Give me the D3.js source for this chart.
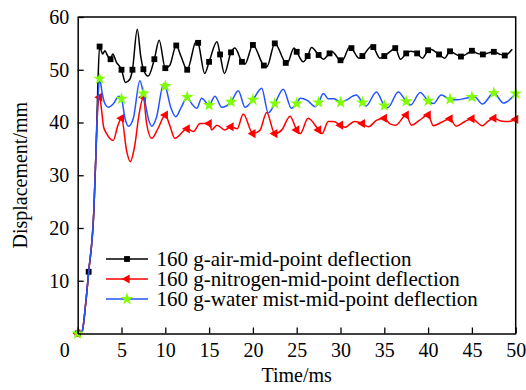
<!DOCTYPE html>
<html>
<head>
<meta charset="utf-8">
<script src="https://cdn.jsdelivr.net/npm/d3@7"></script>
<style>
body { margin: 0; background: #fff; }
svg { display: block; font-family: "Liberation Serif", "Times New Roman", serif; }
</style>
</head>
<body>
<svg id="chart" width="526" height="390"></svg>
<script>
// values, time in ms, displacement in mm
var airLine = [[0.5,0.4],[0.9,5.5],[1.85,23.5],[2.1,35],[2.3,47],
  [2.85,53.0],[3.1,53.6],[3.4,52.7],[4.0,53.0],[4.4,51.5],[5.45,47.6],[5.95,48.2],
  [6.8,57.7],[7.2,52.5],[8.05,48.8],[9.3,55.6],[10.5,50.8],[11.8,52.5],[13.55,55.5],
  [14.5,49.3],[15.9,55.3],[16.75,49.3],[17.95,54.1],[19.1,51.1],[21.6,50.6],[23.9,51.2],
  [24.7,54.1],[25.75,51.5],[26.7,54.2],[28.05,52.0],[29.05,53.4],[30.2,51.8],[31.05,54.3],
  [32.1,52.2],[33.6,54.5],[34.5,52.2],[35.7,53.5],[36.85,52.0],[38.0,53.5],[39.35,52.2],
  [40.25,53.9],[41.9,52.2],[43.1,53.0],[44.4,53.0],[45.6,53.1],[46.9,53.2],[48.1,53.0],[49.6,53.9]];
var airMarks = [[0,0],[1.25,11.7],[2.5,54.4],[3.75,52.0],[5,50.0],[6.25,50.0],[7.5,50.1],
  [8.75,52.0],[10,50.3],[11.25,54.6],[12.5,50.0],[13.75,55.1],[15,51.5],[16.25,52.9],
  [17.5,53.3],[18.75,51.5],[20,54.7],[21.25,50.8],[22.5,55.0],[23.75,51.3],[25,53.4],
  [26.25,52.6],[27.5,52.8],[28.75,53.1],[30,51.8],[31.25,54.1],[32.5,52.6],[33.75,54.3],
  [35,52.6],[36.25,54.1],[37.5,53.1],[38.75,53.1],[40,53.7],[41.25,52.9],[42.5,53.5],
  [43.75,52.5],[45,53.6],[46.25,52.9],[47.5,53.4],[48.75,52.7]];

var nitrogenLine = [[0.5,0.4],[0.9,5.5],[1.25,11.5],[1.85,23.5],[2.1,35],[2.3,43],
  [2.75,42.0],[2.95,39.2],[3.3,37.9],[4.05,36.6],[4.6,39.5],[5.6,34.5],[6.0,32.6],
  [6.5,35.5],[7.0,41.5],[7.85,40.0],[8.45,37.0],[9.2,39.0],[10.5,39.5],[11.1,37.0],
  [13.2,38.3],[13.96,39.8],[15.3,38.6],[15.9,39.5],[16.8,38.6],[18.2,38.8],[18.9,41.6],
  [20.8,38.5],[21.57,41.9],[23.3,38.6],[24.24,41.2],[25.4,37.9],[26.3,40.8],[27.9,37.9],
  [28.6,40.2],[29.2,40.2],[30.5,39.1],[31.6,40.2],[33.2,39.2],[34.1,40.4],[35.6,39.8],
  [36.3,39.5],[38.1,39.5],[39.0,40.4],[40.6,39.4],[41.6,40.1],[43.2,39.3],[44.2,40.2],
  [46.2,39.4],[46.9,40.3],[48.3,40.3],[49.2,40.2]];
var nitrogenMarks = [[0,0],[2.5,44.8],[5,40.8],[7.5,44.8],[10,41.4],[12.5,38.8],[15,39.8],
  [17.5,39.2],[20,37.9],[22.5,37.9],[25,38.6],[27.5,38.6],[30,39.5],[32.5,39.8],[35,40.8],
  [37.5,41.4],[40,41.4],[42.5,40.7],[45,40.7],[47.5,40.8],[50,40.6]];

var mistLine = [[0.5,0.4],[0.9,5.5],[1.25,11.6],[1.85,23.5],[2.1,35],[2.3,44],
  [2.8,45.5],[3.1,43.6],[3.5,42.9],[4.05,43.5],[4.7,45.0],[5.4,40.8],[5.8,39.3],[6.35,40.8],
  [7.1,47.9],[8.1,40.5],[8.45,39.3],[9.0,41.0],[9.8,47.3],[10.6,43.0],[11.2,41.1],[11.8,42.8],
  [13.0,43.6],[13.6,42.7],[14.15,44.6],[15.67,45.0],[16.44,42.9],[18.34,46.0],[19.1,42.9],
  [21.0,46.5],[21.76,41.8],[23.47,46.3],[24.4,42.7],[25.4,44.6],[26.2,44.2],[27.1,43.0],
  [28.05,45.5],[28.6,44.5],[29.3,44.5],[30.6,44.2],[31.8,45.2],[32.9,43.1],[34.1,45.8],
  [35.4,42.8],[36.6,45.8],[38.0,43.3],[39.1,45.7],[40.6,43.6],[41.5,45.2],[43.3,44.3],
  [44.3,44.6],[45.3,44.9],[46.2,43.5],[48.6,43.7]];
var mistMarks = [[0,0],[2.5,48.3],[5,44.5],[7.5,45.5],[10,46.9],[12.5,44.8],[15,43.3],
  [17.5,43.9],[20,44.3],[22.5,43.6],[25,43.6],[27.5,43.8],[30,43.8],[32.5,43.8],[35,43.2],
  [37.5,44.0],[40,44.1],[42.5,44.4],[45,44.8],[47.5,45.6],[50,45.5]];

var seriesNames = ['160 g-air-mid-point deflection',
  '160 g-nitrogen-mid-point deflection',
  '160 g-water mist-mid-point deflection'];
var xTicks = [0, 5, 10, 15, 20, 25, 30, 35, 40, 45, 50];
var yTicks = [10, 20, 30, 40, 50, 60];

var svg = d3.select('#chart');
var plotL = 77.7, plotR = 515.7, plotT = 17, plotB = 333.5;

var x = d3.scaleLinear().domain([0, 50]).range([plotL, plotR]);
var y = d3.scaleLinear().domain([0, 60]).range([plotB, plotT]);

var series = [
  { line: airLine, marks: airMarks, color: '#000', fill: '#000', symbol: d3.symbolSquare, size: 34, rot: 0 },
  { line: nitrogenLine, marks: nitrogenMarks, color: '#ff0000', fill: '#ff0000', symbol: d3.symbolTriangle, size: 36, rot: -90 },
  { line: mistLine, marks: mistMarks, color: '#2255ff', fill: '#7fff00', symbol: d3.symbolStar, size: 50, rot: 0 }
];

var line = d3.line()
  .x(function (d) { return x(d[0]); })
  .y(function (d) { return y(d[1]); })
  .curve(d3.curveMonotoneX);

// each curve goes through its own marker points too
series.forEach(function (s) {
  var pts = s.line.concat(s.marks).sort(function (a, b) { return a[0] - b[0]; });
  var g = svg.append('g');
  g.append('path')
    .attr('d', line(pts))
    .attr('fill', 'none')
    .attr('stroke', s.color)
    .attr('stroke-width', 1.5);
  g.selectAll('path.mk').data(s.marks).enter().append('path')
    .attr('class', 'mk')
    .attr('d', d3.symbol().type(s.symbol).size(s.size))
    .attr('transform', function (d) {
      return 'translate(' + x(d[0]) + ',' + y(d[1]) + ') rotate(' + s.rot + ')';
    })
    .attr('fill', s.fill);
});

// axes, ticks pointing inward
var xAxis = svg.append('g')
  .attr('transform', 'translate(0,' + plotB + ')')
  .call(d3.axisBottom(x).tickValues(xTicks).tickSizeInner(-6).tickSizeOuter(0).tickPadding(9));
var yAxis = svg.append('g')
  .attr('transform', 'translate(' + plotL + ',0)')
  .call(d3.axisLeft(y).tickValues(yTicks).tickSizeInner(-6).tickSizeOuter(0).tickPadding(8.5));

[xAxis, yAxis].forEach(function (a) {
  a.attr('font-family', null).attr('font-size', 20);
  a.selectAll('text').attr('fill', '#000');
  a.selectAll('line').attr('stroke', '#000').attr('stroke-width', 1.3);
  a.select('.domain').attr('stroke', '#000').attr('stroke-width', 1.5);
});
// the origin label sits below-left of the corner
xAxis.selectAll('.tick text').filter(function (d) { return d === 0; }).attr('x', -13.5);

svg.append('path')
  .attr('d', 'M' + plotL + ',' + plotT + 'H' + plotR + 'V' + plotB)
  .attr('fill', 'none')
  .attr('stroke', '#000')
  .attr('stroke-width', 1.5);

svg.append('text')
  .attr('x', (plotL + plotR) / 2)
  .attr('y', 382)
  .attr('text-anchor', 'middle')
  .attr('font-size', 20)
  .text('Time/ms');

svg.append('text')
  .attr('transform', 'translate(27,' + ((plotT + plotB) / 2) + ') rotate(-90)')
  .attr('text-anchor', 'middle')
  .attr('font-size', 20)
  .text('Displacement/mm');

// legend
var legend = svg.append('g');
series.forEach(function (s, i) {
  var ly = 259 + i * 20;
  legend.append('line')
    .attr('x1', 106).attr('x2', 148)
    .attr('y1', ly).attr('y2', ly)
    .attr('stroke', s.color).attr('stroke-width', 1.5);
  legend.append('path')
    .attr('d', d3.symbol().type(s.symbol).size(s.size))
    .attr('transform', 'translate(127,' + ly + ') rotate(' + s.rot + ')')
    .attr('fill', s.fill);
  legend.append('text')
    .attr('x', 156.5)
    .attr('y', ly)
    .attr('dy', '0.35em')
    .attr('font-size', 21)
    .text(seriesNames[i]);
});
</script>
</body>
</html>
